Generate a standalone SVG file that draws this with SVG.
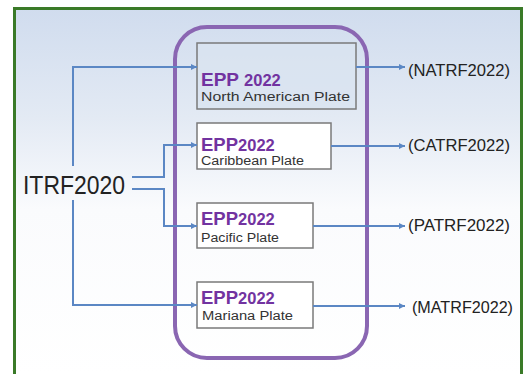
<svg xmlns="http://www.w3.org/2000/svg" width="523" height="374" viewBox="0 0 523 374">
<style>
.bg{fill:url(#bgGrad)}
.frame{fill:none;stroke:#3a7a28;stroke-width:3}
.container{fill:none;stroke:#8a66b2;stroke-width:4}
.box{stroke:#7a7a7a;stroke-width:1.5}
.epp{font-family:"Liberation Sans",Arial,sans-serif;font-weight:bold;fill:#7233a0}
.plate{font-family:"Liberation Sans",Arial,sans-serif;font-size:12.5px;fill:#333333}
.out{font-family:"Liberation Sans",Arial,sans-serif;font-size:17px;fill:#222222}
.src{font-family:"Liberation Sans",Arial,sans-serif;font-size:25px;fill:#222222}
.conn{fill:none;stroke:#5b87c4;stroke-width:2}
.arr{marker-end:url(#ah)}
</style>
<defs>
<linearGradient id="bgGrad" x1="0" y1="0" x2="0" y2="1">
<stop offset="0" stop-color="#d0dcee"/>
<stop offset="0.3" stop-color="#e3eaf4"/>
<stop offset="0.55" stop-color="#fafbfd"/>
<stop offset="1" stop-color="#ffffff"/>
</linearGradient>
<marker id="ah" markerWidth="6" markerHeight="6" refX="6" refY="3" orient="auto" markerUnits="userSpaceOnUse">
<path d="M0,0 L6,3 L0,6 Z" fill="#5b87c4"/>
</marker>
</defs>
<rect class="bg" x="14" y="8" width="509" height="366"/>
<path class="frame" d="M14.5,374 V8.5 H521.5 V374"/>

<g id="container">
<rect class="container" x="175" y="27" width="192" height="331" rx="32" ry="32"/>
</g>

<g id="itrf2020">
<text class="src" x="23" y="194" textLength="102" lengthAdjust="spacingAndGlyphs">ITRF2020</text>
</g>

<g id="epp-north-american">
<rect class="box" x="197" y="43" width="159" height="66" fill="#d9e3f0" fill-opacity="0.8"/>
<text x="201" y="86"><tspan class="epp" font-size="19">EPP</tspan><tspan class="epp" font-size="16.5" dx="5">2022</tspan></text>
<text class="plate" x="201" y="101" textLength="149" lengthAdjust="spacingAndGlyphs">North American Plate</text>
</g>

<g id="epp-caribbean">
<rect class="box" x="197" y="123" width="134" height="46" fill="#ffffff"/>
<text x="201" y="151"><tspan class="epp" font-size="18.5">EPP</tspan><tspan class="epp" font-size="16.5">2022</tspan></text>
<text class="plate" x="201" y="165" textLength="103" lengthAdjust="spacingAndGlyphs">Caribbean Plate</text>
</g>

<g id="epp-pacific">
<rect class="box" x="197" y="203" width="116" height="45" fill="#ffffff"/>
<text x="201" y="225"><tspan class="epp" font-size="18.5">EPP</tspan><tspan class="epp" font-size="16.5">2022</tspan></text>
<text class="plate" x="201" y="242" textLength="78" lengthAdjust="spacingAndGlyphs">Pacific Plate</text>
</g>

<g id="epp-mariana">
<rect class="box" x="197" y="282" width="116" height="46" fill="#ffffff"/>
<text x="201" y="304"><tspan class="epp" font-size="18.5">EPP</tspan><tspan class="epp" font-size="16.5">2022</tspan></text>
<text class="plate" x="202" y="320" textLength="91" lengthAdjust="spacingAndGlyphs">Mariana Plate</text>
</g>

<g id="natrf">
<text class="out" x="408" y="76" textLength="102" lengthAdjust="spacingAndGlyphs">(NATRF2022)</text>
</g>
<g id="catrf">
<text class="out" x="408" y="151" textLength="102" lengthAdjust="spacingAndGlyphs">(CATRF2022)</text>
</g>
<g id="patrf">
<text class="out" x="408" y="231" textLength="102" lengthAdjust="spacingAndGlyphs">(PATRF2022)</text>
</g>
<g id="matrf">
<text class="out" x="412" y="313" textLength="101" lengthAdjust="spacingAndGlyphs">(MATRF2022)</text>
</g>

<g id="connectors">
<path class="conn arr" d="M73,166 V67 H197"/>
<path class="conn arr" d="M73,200 V305 H197"/>
<path class="conn arr" d="M132,177 H164 V145 H197"/>
<path class="conn arr" d="M132,189 H164 V226 H197"/>
<path class="conn arr" d="M356,67 H405"/>
<path class="conn arr" d="M331,146 H405"/>
<path class="conn arr" d="M313,226 H405"/>
<path class="conn arr" d="M313,306 H405"/>
</g>
</svg>
